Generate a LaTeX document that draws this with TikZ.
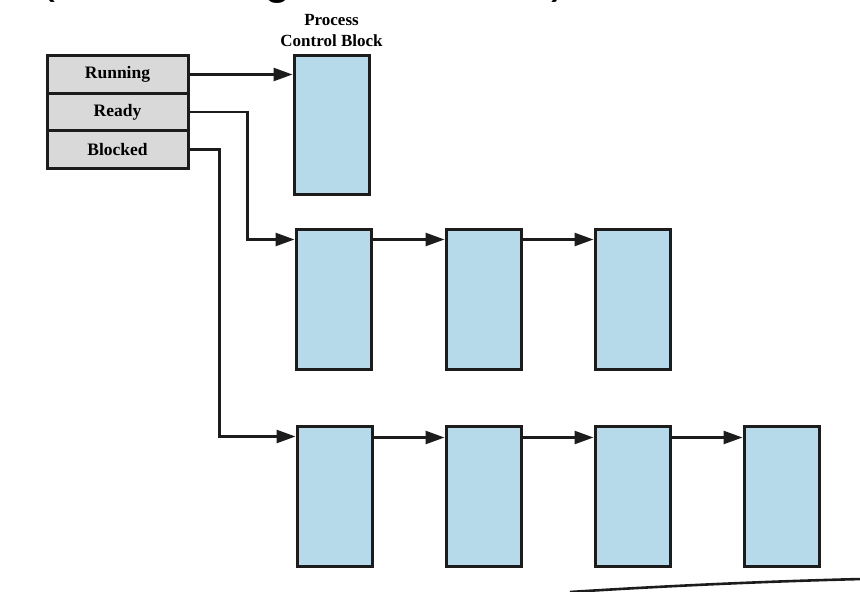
\documentclass[tikz,border=0pt]{standalone}
\usepackage{fontspec}
\setmainfont{Liberation Serif}
\newfontfamily\headfont{Liberation Sans}
\usetikzlibrary{positioning,arrows.meta}
\definecolor{pcbblue}{RGB}{182,218,234}
\definecolor{rowgray}{RGB}{217,217,217}
\definecolor{edge}{RGB}{28,28,28}

\begin{document}
\begin{tikzpicture}[x=1pt,y=-1pt,
  staterow/.style={draw=edge,fill=rowgray,line width=3pt,minimum width=141pt,
    minimum height=37.5pt,inner sep=0,font=\fontsize{17.5}{20}\selectfont\bfseries},
  pcbbox/.style={draw=edge,fill=pcbblue,line width=3pt,minimum width=75pt,
    minimum height=140pt,inner sep=0},
  arr/.style={draw=edge,line width=2.6pt,-{Triangle[length=19pt,width=13pt]}}]
  \useasboundingbox (0,0) rectangle (860,592);

  % cut-off heading above the figure
  \begin{scope}
    \clip (0,0) rectangle (860,592);
    \node[anchor=base,inner sep=0,font=\headfont\fontsize{48}{48}\selectfont] (lpar) at (47,-8) {(};
    \node[anchor=base,inner sep=0,font=\headfont\fontsize{48}{48}\selectfont] (gee) at (278,-7) {g};
    \node[anchor=base,inner sep=0,font=\headfont\fontsize{48}{48}\selectfont] (rpar) at (559,-8) {)};
  \end{scope}

  % state table
  \node[staterow] (running) at (117.5,74.5) {Running};
  \node[staterow] (ready) at (117.5,112) {Ready};
  \node[staterow] (blocked) at (117.5,149.5) {Blocked};

  % running process
  \node[pcbbox,minimum height=139pt] (pcb) at (331.5,124.5) {};
  \node[above=7pt of pcb,inner sep=0,align=center,
    font=\fontsize{17}{21}\selectfont\bfseries] (pcbtitle) {Process\\Control Block};

  % ready queue
  \node[pcbbox] (r1) at (333.5,299) {};
  \node[pcbbox] (r2) at (483.5,299) {};
  \node[pcbbox] (r3) at (632.5,299) {};

  % blocked queue
  \node[pcbbox] (b1) at (334.5,496) {};
  \node[pcbbox] (b2) at (483.5,496) {};
  \node[pcbbox] (b3) at (632.5,496) {};
  \node[pcbbox] (b4) at (781.5,496) {};

  \draw[arr] (running.east) -- (running.east -| pcb.west);
  \draw[arr] (ready.east) -- ++(58,0) |- ([yshift=-12pt]r1.north west);
  \draw[arr] (blocked.east) -- ++(30,0) |- ([yshift=-12pt]b1.north west);

  \draw[arr] ([yshift=-12pt]r1.north east) -- ([yshift=-12pt]r2.north west);
  \draw[arr] ([yshift=-12pt]r2.north east) -- ([yshift=-12pt]r3.north west);

  \draw[arr] ([yshift=-13pt]b1.north east) -- ([yshift=-13pt]b2.north west);
  \draw[arr] ([yshift=-13pt]b2.north east) -- ([yshift=-13pt]b3.north west);
  \draw[arr] ([yshift=-13pt]b3.north east) -- ([yshift=-13pt]b4.north west);

  % pen stroke at the bottom
  \draw[edge,line width=2.6pt] (570,592) .. controls (680,585) and (780,581) .. (862,579);
\end{tikzpicture}
\end{document}
